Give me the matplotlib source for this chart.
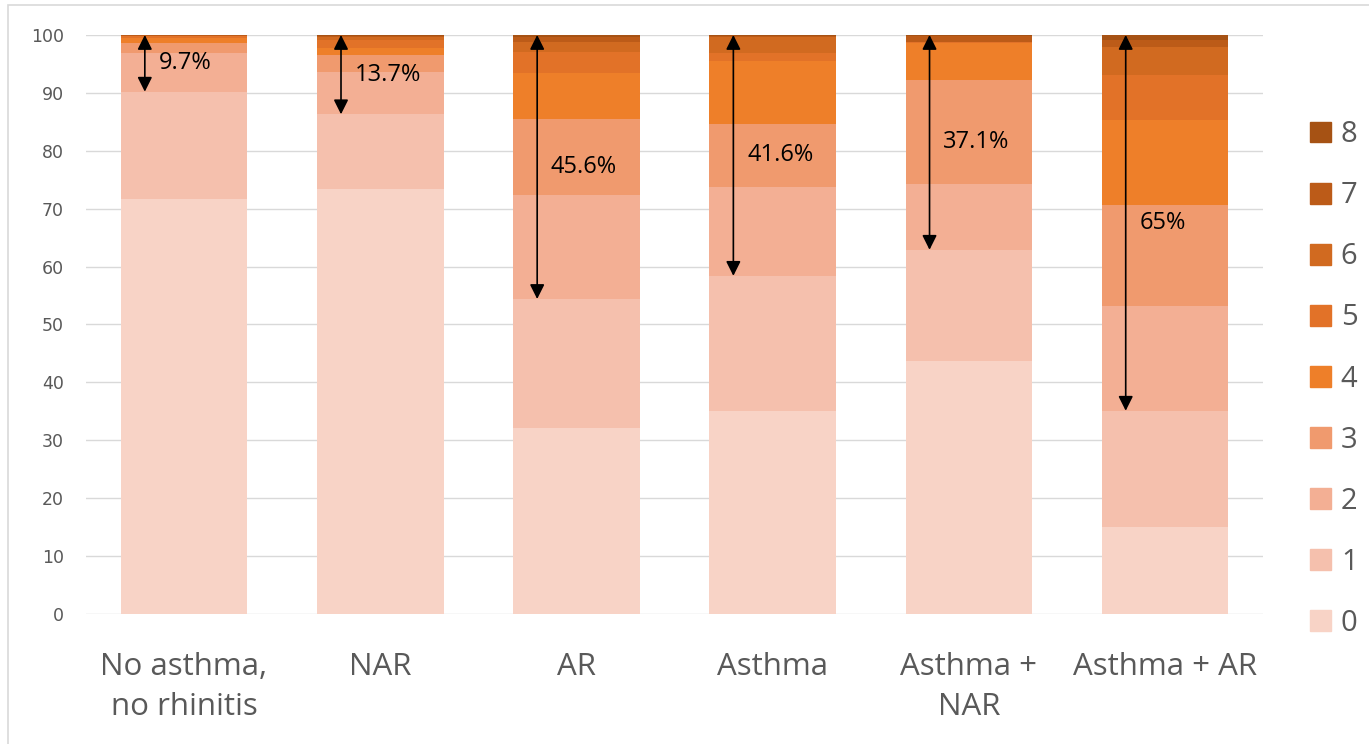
import matplotlib.pyplot as plt
from matplotlib.patches import Patch, Rectangle

plt.rcParams["font.family"] = ["Open Sans", "DejaVu Sans"]

groups = ["No asthma,\nno rhinitis", "NAR", "AR", "Asthma", "Asthma +\nNAR", "Asthma + AR"]
levels = ["0", "1", "2", "3", "4", "5", "6", "7", "8"]

# share (%) of each level per group, rows = level 0..8
shares = [
    [71.7, 73.4, 32.1, 35.1, 43.7, 15.0],
    [18.5, 12.9, 22.3, 23.3, 19.2, 20.1],
    [6.7, 7.3, 18.0, 15.3, 11.4, 18.1],
    [1.7, 2.9, 13.1, 10.9, 17.9, 17.4],
    [0.9, 1.2, 8.0, 10.9, 6.4, 14.7],
    [0.3, 1.5, 3.5, 1.3, 0.1, 7.8],
    [0.1, 0.5, 1.8, 2.9, 0.1, 4.9],
    [0.05, 0.2, 0.9, 0.2, 1.1, 1.1],
    [0.05, 0.1, 0.3, 0.1, 0.1, 0.9],
]
arrow_labels = ["9.7%", "13.7%", "45.6%", "41.6%", "37.1%", "65%"]

colors = ["#F8D3C6", "#F5C0AD", "#F3AF94", "#F09A6E", "#EE7F29",
          "#E27228", "#D16A20", "#BC5B18", "#A65214"]

fig = plt.figure(figsize=(13.69, 7.44), dpi=100)
ax = fig.add_axes([0.0628, 0.1747, 0.8598, 0.7783])

x = list(range(len(groups)))
bottom = [0.0] * len(groups)
for lvl, vals, col in zip(levels, shares, colors):
    ax.bar(x, vals, bottom=bottom, width=0.645, color=col, label=lvl, zorder=2)
    bottom = [b + v for b, v in zip(bottom, vals)]

# arrows from the top down to the top of level 1
for i, lab in enumerate(arrow_labels):
    low = shares[0][i] + shares[1][i]
    ax.annotate("", xy=(i - 0.2, low), xytext=(i - 0.2, 100),
                arrowprops=dict(arrowstyle="<|-|>", color="black", lw=1.2,
                                mutation_scale=22, shrinkA=0, shrinkB=0),
                zorder=5)
    ax.text(i - 0.13, (100 + low) / 2, lab, ha="left", va="center",
            fontsize=17, color="black", zorder=6)

ax.set_xlim(-0.5, len(groups) - 0.5)
ax.set_ylim(0, 100)
ax.set_yticks(range(0, 101, 10))
ax.set_xticks(x)
ax.set_xticklabels(groups, fontsize=22.5, color="#595959", linespacing=1.45)
for t in ax.get_yticklabels():
    t.set_fontfamily("DejaVu Sans")
ax.tick_params(axis="y", length=0, labelsize=12.5, labelcolor="#595959", pad=16)
ax.tick_params(axis="x", length=0, pad=27)
ax.grid(axis="y", color="#D9D9D9", lw=1, zorder=0)
for s in ax.spines.values():
    s.set_visible(False)

handles = [Patch(color=c) for c in colors][::-1]
fig.legend(handles, levels[::-1], loc="upper left", bbox_to_anchor=(0.946, 0.858),
           frameon=False, fontsize=21, labelcolor="#595959",
           handlelength=0.72, handleheight=0.72, handletextpad=0.35,
           labelspacing=1.1, borderpad=0)

fig.patches.append(Rectangle((0.006, -0.01), 1.1, 1.003, transform=fig.transFigure,
                             fill=False, edgecolor="#D9D9D9", lw=1.2))

fig.savefig("out.png", dpi=100)
